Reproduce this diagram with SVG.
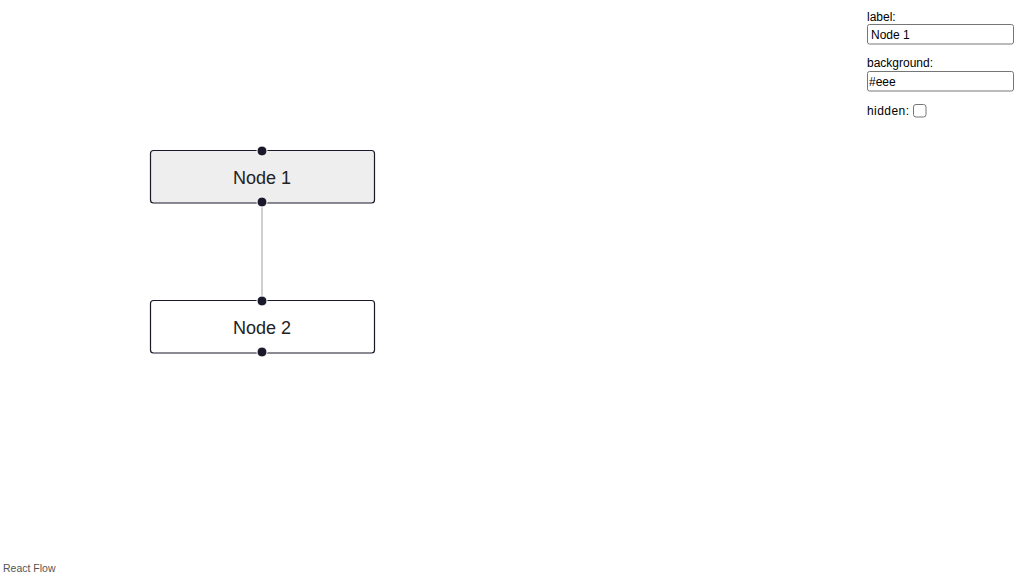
<svg xmlns="http://www.w3.org/2000/svg" width="1024" height="576" viewBox="0 0 1024 576">
<style>
.node rect{stroke:#1a192b;stroke-width:1.2;}
.nl{font-family:"Helvetica","Liberation Sans",Arial,sans-serif;font-size:18px;fill:#222;text-anchor:middle;}
.h{fill:#1a192b;stroke:#fff;stroke-width:1;}
.ui{font-family:"Helvetica","Liberation Sans",Arial,sans-serif;font-size:12px;fill:#000;}
.inp{fill:#fff;stroke:#767676;stroke-width:1;}
</style>
<rect width="1024" height="576" fill="#fff"/>
<g id="connectors">
<path d="M262,202 L262,301" stroke="#b1b1b7" stroke-width="1.2" fill="none"/>
</g>
<g id="node1" class="node">
<rect x="150.5" y="150.5" width="224" height="52.5" rx="3" fill="#eeeeee"/>
<text class="nl" x="262" y="183.5">Node 1</text>
<circle class="h" cx="262" cy="151" r="5"/>
<circle class="h" cx="262" cy="202" r="5"/>
</g>
<g id="node2" class="node">
<rect x="150.5" y="300.5" width="224" height="52.5" rx="3" fill="#ffffff"/>
<text class="nl" x="262" y="333.5">Node 2</text>
<circle class="h" cx="262" cy="301" r="5"/>
<circle class="h" cx="262" cy="352" r="5"/>
</g>
<g id="controls">
<text class="ui" x="867" y="21">label:</text>
<rect class="inp" x="867.5" y="24.5" width="146" height="19.5" rx="2"/>
<text class="ui" x="871" y="38.5" font-size="13">Node 1</text>
<text class="ui" x="867" y="67">background:</text>
<rect class="inp" x="867.5" y="71.5" width="146" height="19.5" rx="2"/>
<text class="ui" x="869" y="85.5" font-size="13">#eee</text>
<text class="ui" x="867" y="115" textLength="42">hidden:</text>
<rect class="inp" x="913.5" y="104.5" width="12.5" height="12.5" rx="2.5"/>
</g>
<text x="3" y="572" font-family="Helvetica,'Liberation Sans',Arial,sans-serif" font-size="10.5" fill="#555">React Flow</text>
</svg>
